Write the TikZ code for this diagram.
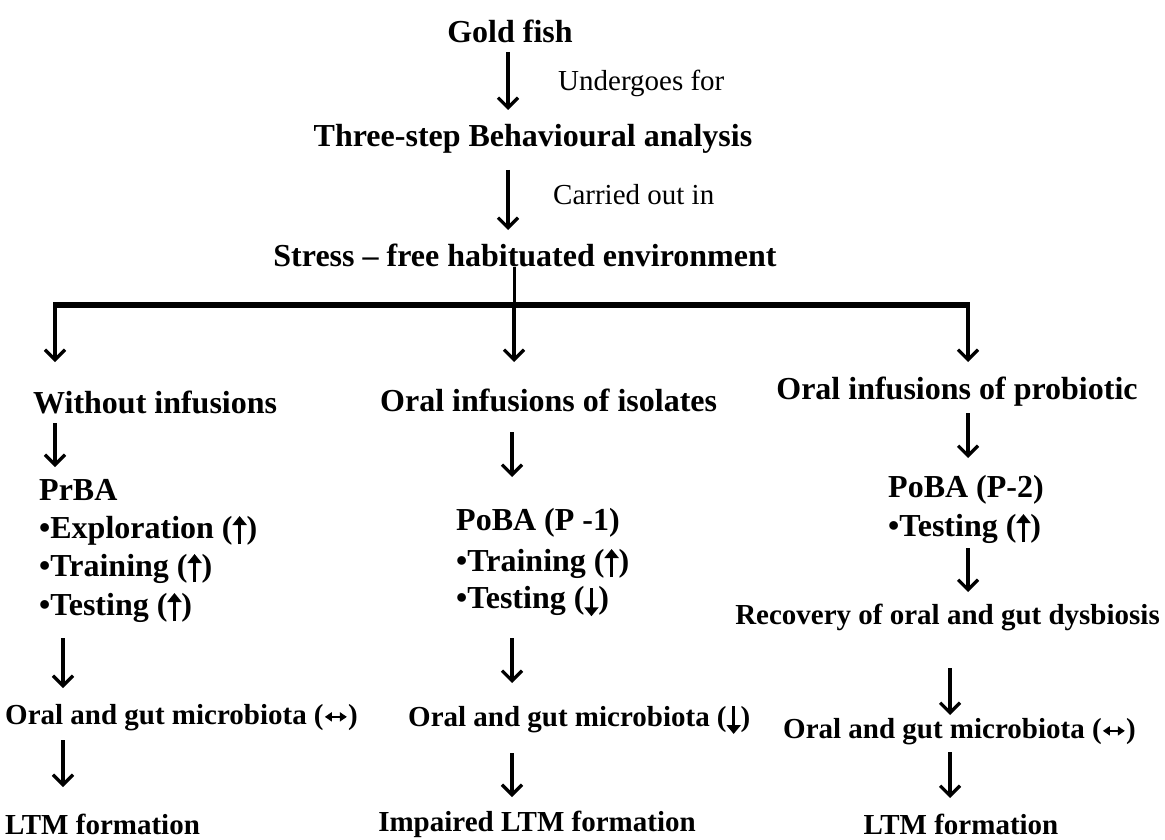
\documentclass[tikz,border=0pt]{standalone}
\usepackage{fontspec}
\setmainfont{Liberation Serif}
\usetikzlibrary{arrows.meta}
\newcommand{\arU}{\tikz[x=1pt,y=1pt,baseline=0pt]{\draw[line width=3.4pt,-{Triangle[length=9pt,width=14pt]}](0,-6)--(0,22);}}
\newcommand{\arD}{\tikz[x=1pt,y=1pt,baseline=0pt]{\draw[line width=3.4pt,-{Triangle[length=9pt,width=14pt]}](0,20)--(0,-8);}}
\newcommand{\arLR}{\tikz[x=1pt,y=1pt,baseline=0pt]{\draw[line width=2.4pt,{Triangle[length=7pt,width=9pt]}-{Triangle[length=7pt,width=9pt]}](0,8)--(22,8);}}
\begin{document}
\begin{tikzpicture}[x=1pt,y=-1pt,
  hd/.style={inner sep=0pt,font=\fontsize{32}{36}\selectfont\bfseries},
  bd/.style={inner sep=0pt,font=\fontsize{32}{36}\selectfont\bfseries},
  sm/.style={inner sep=0pt,font=\fontsize{29}{33}\selectfont\bfseries},
  lbl/.style={inner sep=0pt,font=\fontsize{29}{33}\selectfont},
  arr/.style={line width=3.2pt,-{Straight Barb[length=10pt,width=20pt,line width=3.2pt]}},
]
\useasboundingbox (0,0) rectangle (1165,840);
% top chain
\node[hd] (gold) at (510,31) {Gold fish};
\coordinate (a1t) at (508,52); \coordinate (a1b) at (508,110);
\draw[arr] (a1t) -- (a1b);
\node[lbl,anchor=west] (und) at (558,83) {Undergoes for};
\node[hd] (three) at (533,139) {Three-step Behavioural analysis};
\coordinate (a2t) at (508,170); \coordinate (a2b) at (508,230);
\draw[arr] (a2t) -- (a2b);
\node[lbl,anchor=west] (car) at (553,195) {Carried out in};
\node[hd] (stress) at (525,255) {Stress – free habituated environment};
% branching
\coordinate (bl) at (53,305); \coordinate (bm) at (514,305); \coordinate (br) at (970,305);
\draw[line width=3pt] (stress.south -| bm) -- (bm);
\draw[line width=6pt] (bl) -- (br);
\coordinate (l0) at (55,305); \coordinate (l1) at (55,362);
\coordinate (m1) at (514,362);
\coordinate (r0) at (968,305); \coordinate (r1) at (968,362);
\draw[arr] (l0) -- (l1);
\draw[arr] (bm) -- (m1);
\draw[arr] (r0) -- (r1);
% headings
\node[hd,anchor=west] (wo) at (33,402) {Without infusions};
\node[hd,anchor=west] (iso) at (380,400) {Oral infusions of isolates};
\node[hd] (pro) at (957,392) {Oral infusions of probiotic};
% left column
\coordinate (la1) at (55,423); \coordinate (la2) at (55,467);
\draw[arr] (la1) -- (la2);
\node[bd,anchor=west] (prba) at (39,490) {PrBA};
\node[bd,anchor=west] (lex) at (39,530) {•Exploration (\arU)};
\node[bd,anchor=west] (ltr) at (39,568) {•Training (\arU)};
\node[bd,anchor=west] (lte) at (39,607) {•Testing (\arU)};
\coordinate (la3) at (63,638); \coordinate (la4) at (63,688);
\draw[arr] (la3) -- (la4);
\node[sm,anchor=west] (lmic) at (5,718) {Oral and gut microbiota (\arLR)};
\coordinate (la5) at (63,740); \coordinate (la6) at (63,787);
\draw[arr] (la5) -- (la6);
\node[sm,anchor=west] (lltm) at (5,824) {LTM formation};
% middle column
\coordinate (ma1) at (512,432); \coordinate (ma2) at (512,477);
\draw[arr] (ma1) -- (ma2);
\node[bd,anchor=west] (poba1) at (456,523) {PoBA (P -1)};
\node[bd,anchor=west] (mtr) at (456,563) {•Training (\arU)};
\node[bd,anchor=west] (mte) at (456,602) {•Testing (\arD)};
\coordinate (ma3) at (512,638); \coordinate (ma4) at (512,683);
\draw[arr] (ma3) -- (ma4);
\node[sm,anchor=west] (mmic) at (408,720) {Oral and gut microbiota (\arD)};
\coordinate (ma5) at (512,753); \coordinate (ma6) at (512,797);
\draw[arr] (ma5) -- (ma6);
\node[sm] (mltm) at (537,824) {Impaired LTM formation};
% right column
\coordinate (ra1) at (968,413); \coordinate (ra2) at (968,458);
\draw[arr] (ra1) -- (ra2);
\node[bd,anchor=west] (poba2) at (888,490) {PoBA (P-2)};
\node[bd,anchor=west] (rte) at (888,528) {•Testing (\arU)};
\coordinate (ra3) at (968,548); \coordinate (ra4) at (968,592);
\draw[arr] (ra3) -- (ra4);
\node[sm,anchor=east] (rec) at (1160,617) {Recovery of oral and gut dysbiosis};
\coordinate (ra5) at (950,668); \coordinate (ra6) at (950,715);
\draw[arr] (ra5) -- (ra6);
\node[sm,anchor=west] (rmic) at (783,732) {Oral and gut microbiota (\arLR)};
\coordinate (ra7) at (950,752); \coordinate (ra8) at (950,798);
\draw[arr] (ra7) -- (ra8);
\node[sm] (rltm) at (961,824) {LTM formation};
\end{tikzpicture}
\end{document}
